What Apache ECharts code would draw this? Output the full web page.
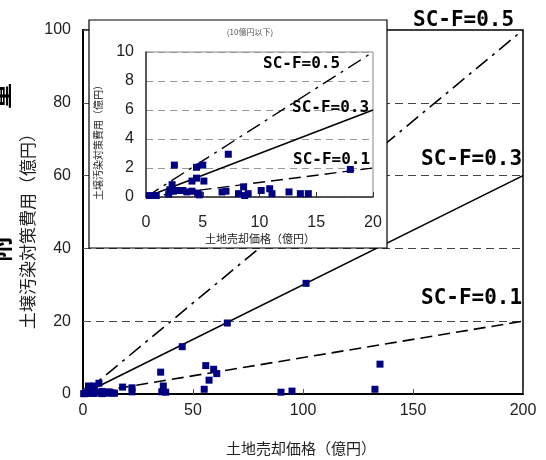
<!DOCTYPE html>
<html>
<head>
<meta charset="utf-8">
<script src="https://cdn.jsdelivr.net/npm/echarts@6/dist/echarts.min.js"></script>
<style>
html, body { margin: 0; padding: 0; background: #fff; }
#chart { width: 546px; height: 460px; }
</style>
</head>
<body>
<div id="chart"></div>
<script>
// 土地売却価格 vs 土壌汚染対策費用 (億円)

// sites at or under 20億円 (shown in both plots)
var smallX = [0.3, 0.9, 2.0, 2.1, 2.3, 2.5, 2.4, 2.7, 3.25, 3.6, 4.05, 4.05, 4.45, 4.45, 5.0, 5.1, 4.55, 4.7,
              6.7, 7.05, 7.25, 8.15, 8.6, 8.7, 9.0, 10.15, 10.9, 11.1, 12.6, 13.6, 14.3, 18.0];
var smallY = [0.1, 0.1, 0.2, 0.5, 0.85, 2.2, 0.4, 0.45, 0.45, 0.35, 0.4, 1.1, 1.3, 2.05, 2.2, 1.1, 0.27, 0.15,
              0.35, 0.4, 2.95, 0.23, 0.7, 0.1, 0.23, 0.45, 0.57, 0.23, 0.35, 0.23, 0.23, 1.9];

// larger sites (main plot only)
var largeX = [22.3, 22.3, 35.3, 36.5, 35.8, 37.6, 45.1, 55.1, 55.8, 57.3, 59.4, 60.8, 65.6, 90, 95, 101.4, 132.7, 135];
var largeY = [1.7, 0.6, 6.0, 2.2, 0.6, 0.5, 13.0, 1.3, 7.8, 3.8, 6.8, 5.6, 19.5, 0.5, 0.8, 30.4, 1.3, 8.2];

// SC-F reference lines (cost / price ratio)
var ratios = [0.5, 0.3, 0.1];
var ratioNames = ['SC-F=0.5', 'SC-F=0.3', 'SC-F=0.1'];
var ratioDash = [[15, 6, 3, 6], 'solid', [12, 6]];

var mainMax = [200, 100];
var insetMax = [20, 10];

function pairs(xs, ys) {
    return xs.map(function (x, i) { return [x, ys[i]]; });
}
var mainPts = pairs(smallX.concat(largeX), smallY.concat(largeY));
var insetPts = pairs(smallX, smallY);

var FONT = 'Liberation Sans, Arial, sans-serif';
var JP = 'Noto Sans CJK JP, sans-serif';
var MONO = 'DejaVu Sans Mono, monospace';

var series = [
    {
        type: 'scatter', xAxisIndex: 0, yAxisIndex: 0, z: 3,
        symbol: 'rect', symbolSize: 7,
        itemStyle: { color: '#000080', opacity: 1 },
        data: mainPts
    },
    {
        type: 'scatter', xAxisIndex: 1, yAxisIndex: 1, z: 22,
        symbol: 'rect', symbolSize: 7,
        itemStyle: { color: '#000080', opacity: 1 },
        data: insetPts
    }
];
ratios.forEach(function (r, i) {
    series.push({
        type: 'line', xAxisIndex: 0, yAxisIndex: 0, z: 2,
        showSymbol: false, silent: true,
        lineStyle: { color: '#000', width: 1.6, type: ratioDash[i] },
        data: [[0, 0], [mainMax[0], r * mainMax[0]]]
    });
    series.push({
        type: 'line', xAxisIndex: 1, yAxisIndex: 1, z: 21,
        showSymbol: false, silent: true,
        lineStyle: { color: '#000', width: 1.4, type: ratioDash[i] },
        data: [[0, 0], [insetMax[0], r * insetMax[0]]]
    });
});

var mainLabelPos = [[413, 21], [421, 160], [421, 299]];
var insetLabelPos = [[263, 64], [292, 108], [293, 160]];

var graphics = [
    {
        type: 'rect', z: 10,
        shape: { x: 89, y: 20, width: 298, height: 228 },
        style: { fill: '#fff', stroke: '#000', lineWidth: 1.2 }
    },
    {
        type: 'text', z: 12, x: 250, y: 32,
        style: { text: '(10億円以下)', font: '8px ' + JP, fill: '#555', align: 'center', verticalAlign: 'middle' }
    },
    {
        type: 'text', z: 12, x: 98, y: 140, rotation: Math.PI / 2,
        style: { text: '土壌汚染対策費用（億円）', font: '10px ' + JP, fill: '#222', align: 'center', verticalAlign: 'middle' }
    },
    {
        type: 'text', z: 12, x: 260, y: 239,
        style: { text: '土地売却価格（億円）', font: '11px ' + JP, fill: '#222', align: 'center', verticalAlign: 'middle' }
    },
    {
        type: 'text', x: 28, y: 227, rotation: Math.PI / 2,
        style: { text: '土壌汚染対策費用（億円）', font: '17px ' + JP, fill: '#222', align: 'center', verticalAlign: 'middle' }
    },
    {
        type: 'text', x: 301, y: 448,
        style: { text: '土地売却価格（億円）', font: '15px ' + JP, fill: '#222', align: 'center', verticalAlign: 'middle' }
    },
    // clipped remnants of a larger title at the far left edge
    {
        type: 'text', x: -1, y: 96, rotation: Math.PI / 2,
        style: { text: '量', font: 'bold 26px ' + JP, fill: '#000', align: 'center', verticalAlign: 'middle' }
    },
    {
        type: 'text', x: -1, y: 249, rotation: Math.PI / 2,
        style: { text: '附', font: 'bold 26px ' + JP, fill: '#000', align: 'center', verticalAlign: 'middle' }
    }
];
ratioNames.forEach(function (t, i) {
    graphics.push({
        type: 'text', x: mainLabelPos[i][0], y: mainLabelPos[i][1],
        style: { text: t, font: 'bold 21px ' + MONO, fill: '#000', align: 'left', verticalAlign: 'middle' }
    });
    graphics.push({
        type: 'text', z: 25, x: insetLabelPos[i][0], y: insetLabelPos[i][1],
        style: { text: t, font: 'bold 16px ' + MONO, fill: '#000', align: 'left', verticalAlign: 'middle' }
    });
});

var chart = echarts.init(document.getElementById('chart'));
chart.setOption({
    animation: false,
    backgroundColor: '#fff',
    grid: [
        { left: 83, right: 23, top: 30, bottom: 66, show: true, borderColor: '#000', borderWidth: 1.5, backgroundColor: 'transparent' },
        { left: 146, right: 173, top: 52, bottom: 263, show: true, borderColor: '#888', borderWidth: 1, backgroundColor: 'transparent', z: 15 }
    ],
    xAxis: [
        {
            gridIndex: 0, type: 'value', min: 0, max: mainMax[0], interval: 50,
            axisLine: { lineStyle: { color: '#000', width: 2 } },
            axisTick: { inside: true, length: 5, lineStyle: { color: '#555' } },
            axisLabel: { color: '#222', fontSize: 16, fontFamily: FONT, margin: 9 },
            splitLine: { show: false }
        },
        {
            gridIndex: 1, type: 'value', min: 0, max: insetMax[0], interval: 5, z: 20,
            axisLine: { lineStyle: { color: '#333', width: 1.5 } },
            axisTick: { inside: true, length: 5, lineStyle: { color: '#333' } },
            axisLabel: { color: '#222', fontSize: 16, fontFamily: FONT, margin: 18 },
            splitLine: { show: false }
        }
    ],
    yAxis: [
        {
            gridIndex: 0, type: 'value', min: 0, max: mainMax[1], interval: 20,
            axisLine: { show: true, lineStyle: { color: '#000', width: 2 } },
            axisTick: { show: true, inside: true, length: 5, lineStyle: { color: '#555' } },
            axisLabel: { color: '#222', fontSize: 16, fontFamily: FONT, margin: 12 },
            splitLine: { show: true, lineStyle: { color: '#444', width: 1, type: [8, 5] } }
        },
        {
            gridIndex: 1, type: 'value', min: 0, max: insetMax[1], interval: 2, z: 20,
            axisLine: { show: true, lineStyle: { color: '#333', width: 1.5 } },
            axisTick: { show: false },
            axisLabel: { color: '#222', fontSize: 16, fontFamily: FONT, margin: 12 },
            splitLine: { show: true, lineStyle: { color: '#999', width: 1, type: [7, 5] } }
        }
    ],
    graphic: graphics,
    series: series
});
</script>
</body>
</html>
